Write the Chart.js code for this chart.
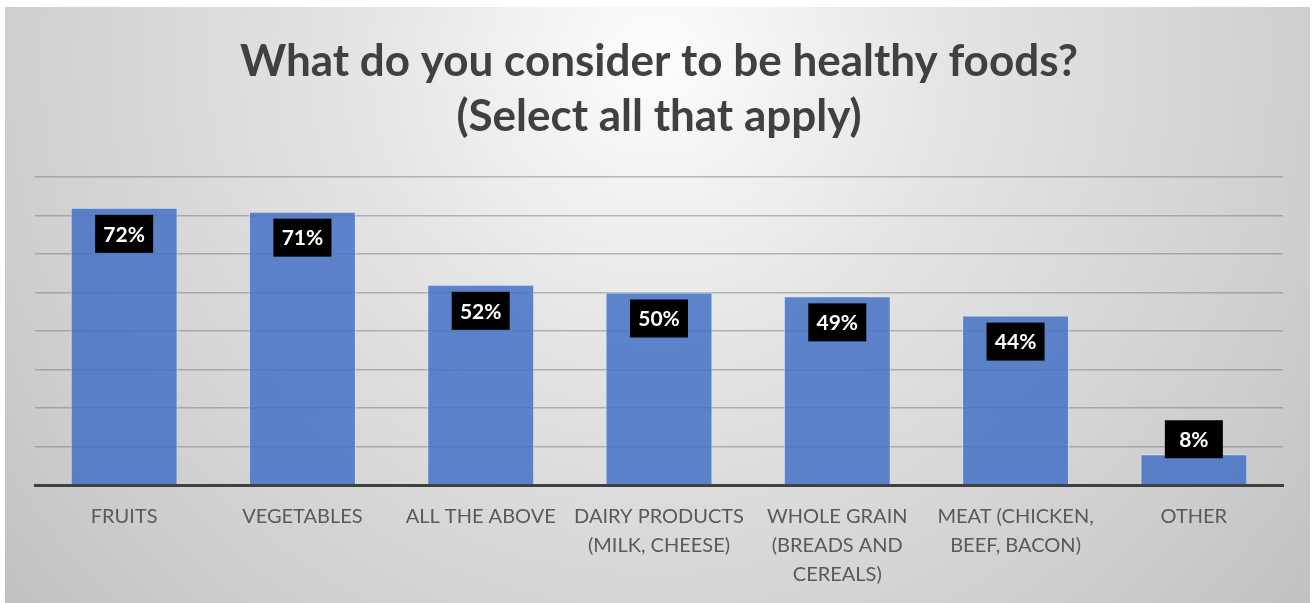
<!doctype html>
<html lang="en">
<head>
    <meta charset="UTF-8"/>
    <script src="https://cdn.jsdelivr.net/npm/chart.js@4.4.0/dist/chart.umd.min.js"></script>
    <title>Healthy foods survey</title>
    <style>
        body { margin: 0; background: #fff; }
        #wrap { width: 1313px; height: 603px; }
    </style>
</head>
<body>
<div id="wrap"><canvas id="foodsChart" width="1313" height="603"></canvas></div>

<script>
    const categories = [
        'FRUITS',
        'VEGETABLES',
        'ALL THE ABOVE',
        ['DAIRY PRODUCTS', '(MILK, CHEESE)'],
        ['WHOLE GRAIN', '(BREADS AND', 'CEREALS)'],
        ['MEAT (CHICKEN,', 'BEEF, BACON)'],
        'OTHER'
    ];
    const shares = [72, 71, 52, 50, 49, 44, 8];
    const titleLines = ['What do you consider to be healthy foods?', '(Select all that apply)'];

    // grey radial fill behind everything, like the office chart frame
    const frameBackground = {
        id: 'frameBackground',
        beforeDraw(chart) {
            const ctx = chart.ctx;
            ctx.save();
            const g = ctx.createRadialGradient(656, 60, 0, 656, 60, 850);
            g.addColorStop(0, '#fdfdfd');
            g.addColorStop(0.35, '#e4e4e4');
            g.addColorStop(0.8, '#cdcdcd');
            g.addColorStop(1, '#c1c1c1');
            ctx.fillStyle = g;
            ctx.fillRect(5, 7, 1305, 596);
            ctx.restore();
        }
    };

    // black value boxes near the top of each bar
    const valueBoxes = {
        id: 'valueBoxes',
        afterDatasetsDraw(chart) {
            const ctx = chart.ctx;
            const meta = chart.getDatasetMeta(0);
            ctx.save();
            ctx.font = 'bold 21px Lato';
            ctx.textAlign = 'center';
            ctx.textBaseline = 'middle';
            meta.data.forEach((bar, i) => {
                const w = 58, h = 38;
                const top = Math.min(bar.y + 7, bar.base - 64);
                ctx.fillStyle = '#000';
                ctx.fillRect(bar.x - w / 2, top, w, h);
                ctx.fillStyle = '#fff';
                ctx.fillText(shares[i] + '%', bar.x, top + h / 2 + 1);
            });
            ctx.restore();
        }
    };

    new Chart(document.getElementById('foodsChart'), {
        type: 'bar',
        data: {
            labels: categories,
            datasets: [{
                data: shares,
                backgroundColor: 'rgba(68, 114, 196, 0.85)',
                borderColor: 'rgba(215, 228, 248, 0.8)',
                borderWidth: 1,
                barPercentage: 0.6,
                categoryPercentage: 1
            }]
        },
        plugins: [frameBackground, valueBoxes],
        options: {
            responsive: false,
            animation: false,
            layout: {padding: {left: 35, right: 30, top: 0, bottom: -3}},
            plugins: {
                legend: {display: false},
                tooltip: {enabled: false},
                title: {
                    display: true,
                    text: titleLines,
                    color: '#404040',
                    font: {family: 'Lato', size: 44, weight: 'bold', lineHeight: 55 / 44},
                    padding: {top: 34, bottom: 33}
                }
            },
            scales: {
                x: {
                    grid: {display: false, drawTicks: false},
                    border: {display: true, color: '#404040', width: 3},
                    ticks: {
                        color: '#595959',
                        font: {family: 'Lato', size: 20, lineHeight: 29 / 20},
                        padding: 17,
                        maxRotation: 0,
                        autoSkip: false
                    }
                },
                y: {
                    min: 0,
                    max: 80,
                    ticks: {display: false, stepSize: 10},
                    grid: {color: 'rgba(110, 110, 110, 0.45)', lineWidth: 1.5, drawTicks: false},
                    border: {display: false}
                }
            }
        }
    });
</script>
</body>
</html>
